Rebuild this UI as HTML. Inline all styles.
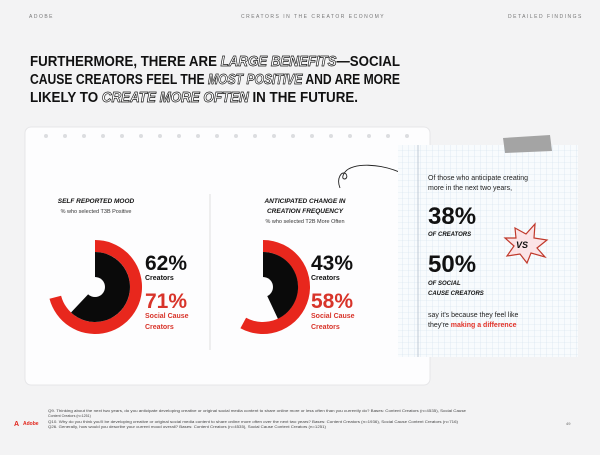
<!DOCTYPE html>
<html><head><meta charset="utf-8"><style>
body{margin:0;width:600px;height:450px;background:#f3f3f4;overflow:hidden;font-family:"Liberation Sans",sans-serif;}
</style></head><body>
<svg width="600" height="450" viewBox="0 0 600 450" xmlns="http://www.w3.org/2000/svg" font-family="Liberation Sans, sans-serif">
<defs>
<pattern id="grid" width="6" height="6" patternUnits="userSpaceOnUse">
<path d="M6 0H0V6" fill="none" stroke="#cfe0ec" stroke-width="0.6"/>
</pattern>
</defs>
<rect width="600" height="450" fill="#f3f3f4"/>
<text x="29" y="18" font-size="5" letter-spacing="1.5" fill="#777">ADOBE</text>
<text x="241" y="18" font-size="5" letter-spacing="1.5" fill="#777">CREATORS IN THE CREATOR ECONOMY</text>
<text x="508" y="18" font-size="5" letter-spacing="1.5" fill="#777">DETAILED FINDINGS</text>
<g font-size="14.5" font-weight="bold" fill="#111">
<text x="30" y="66" textLength="370" lengthAdjust="spacingAndGlyphs">FURTHERMORE, THERE ARE <tspan fill="#fff" stroke="#111" stroke-width="0.7" font-style="italic">LARGE BENEFITS</tspan>—SOCIAL</text>
<text x="30" y="84" textLength="370" lengthAdjust="spacingAndGlyphs">CAUSE CREATORS FEEL THE <tspan fill="#fff" stroke="#111" stroke-width="0.7" font-style="italic">MOST POSITIVE</tspan> AND ARE MORE</text>
<text x="30" y="102" textLength="328" lengthAdjust="spacingAndGlyphs">LIKELY TO <tspan fill="#fff" stroke="#111" stroke-width="0.7" font-style="italic">CREATE MORE OFTEN</tspan> IN THE FUTURE.</text>
</g>
<rect x="25" y="127" width="405" height="258" rx="6" fill="#fdfdfe" stroke="#e6e6e8"/>
<g fill="#dcdde0">
<circle cx="46" cy="136" r="2"/><circle cx="65" cy="136" r="2"/><circle cx="84" cy="136" r="2"/><circle cx="103" cy="136" r="2"/><circle cx="122" cy="136" r="2"/><circle cx="141" cy="136" r="2"/><circle cx="160" cy="136" r="2"/><circle cx="179" cy="136" r="2"/><circle cx="198" cy="136" r="2"/><circle cx="217" cy="136" r="2"/><circle cx="236" cy="136" r="2"/><circle cx="255" cy="136" r="2"/><circle cx="274" cy="136" r="2"/><circle cx="293" cy="136" r="2"/><circle cx="312" cy="136" r="2"/><circle cx="331" cy="136" r="2"/><circle cx="350" cy="136" r="2"/><circle cx="369" cy="136" r="2"/><circle cx="388" cy="136" r="2"/><circle cx="407" cy="136" r="2"/>
</g>
<line x1="210" y1="194" x2="210" y2="350" stroke="#d8d8d8" stroke-width="0.8"/>
<text x="96" y="203" font-size="6.5" font-weight="bold" font-style="italic" text-anchor="middle" fill="#111">SELF REPORTED MOOD</text>
<text x="96" y="213" font-size="5.5" text-anchor="middle" fill="#333">% who selected T3B Positive</text>
<text x="305" y="203" font-size="6.5" font-weight="bold" font-style="italic" text-anchor="middle" fill="#111">ANTICIPATED CHANGE IN</text>
<text x="305" y="213" font-size="6.5" font-weight="bold" font-style="italic" text-anchor="middle" fill="#111">CREATION FREQUENCY</text>
<text x="305" y="223" font-size="5.5" text-anchor="middle" fill="#333">% who selected T2B More Often</text>
<path d="M95 240 A47 47 0 1 1 49.5 298.7 L61.1 295.7 A35 35 0 1 0 95 252 Z" fill="#e8271d"/>
<path d="M95 287 L95 252 A35 35 0 1 1 71 312.5 Z" fill="#0a0a0a"/>
<circle cx="95" cy="287" r="10" fill="#fdfdfe"/>
<path d="M263 240 A47 47 0 1 1 240.4 328.2 L246.1 317.7 A35 35 0 1 0 263 252 Z" fill="#e8271d"/>
<path d="M263 287 L263 252 A35 35 0 0 1 277.9 318.7 Z" fill="#0a0a0a"/>
<circle cx="263" cy="287" r="10" fill="#fdfdfe"/>
<g font-weight="bold">
<text x="145" y="270" font-size="21" fill="#111">62%</text>
<text x="145" y="280" font-size="7" fill="#111">Creators</text>
<text x="145" y="308" font-size="21" fill="#d8342a">71%</text>
<text x="145" y="318" font-size="7" fill="#d8342a">Social Cause</text>
<text x="145" y="329" font-size="7" fill="#d8342a">Creators</text>
<text x="311" y="270" font-size="21" fill="#111">43%</text>
<text x="311" y="280" font-size="7" fill="#111">Creators</text>
<text x="311" y="308" font-size="21" fill="#d8342a">58%</text>
<text x="311" y="318" font-size="7" fill="#d8342a">Social Cause</text>
<text x="311" y="329" font-size="7" fill="#d8342a">Creators</text>
</g>
<path d="M340 188 C336 178 342 170 346 174 C350 180 338 182 345 172 C352 163 380 162 406 175" fill="none" stroke="#222" stroke-width="0.9"/>
<path d="M401 170 L406 175 L400 177" fill="none" stroke="#222" stroke-width="0.9"/>
<rect x="398" y="145" width="180" height="212" fill="#f8fbfd"/>
<rect x="398" y="145" width="180" height="212" fill="url(#grid)"/>
<line x1="418" y1="145" x2="418" y2="357" stroke="#a9b6c4" stroke-width="0.7"/>
<polygon points="503,138 550,135 552,151 505,153" fill="#a4a4a4"/>
<text x="428" y="180" font-size="7" fill="#222">Of those who anticipate creating</text>
<text x="428" y="190" font-size="7" fill="#222">more in the next two years,</text>
<text x="428" y="224" font-size="24" font-weight="bold" fill="#111">38%</text>
<text x="428" y="236" font-size="6" font-weight="bold" font-style="italic" fill="#111">OF CREATORS</text>
<text x="428" y="272" font-size="24" font-weight="bold" fill="#111">50%</text>
<text x="428" y="285" font-size="6" font-weight="bold" font-style="italic" fill="#111">OF SOCIAL</text>
<text x="428" y="295" font-size="6" font-weight="bold" font-style="italic" fill="#111">CAUSE CREATORS</text>
<polygon points="515,228 526,234 535,224 534,238 547,240 537,248 545,257 531,253 527,263 520,254 507,256 514,246 505,238 516,238" fill="#fbe3e6" stroke="#c0392b" stroke-width="1.2"/>
<text x="516" y="248" font-size="9" font-weight="bold" font-style="italic" fill="#111">VS</text>
<text x="428" y="317" font-size="7" fill="#222">say it's because they feel like</text>
<text x="428" y="327" font-size="7" fill="#222">they're <tspan font-weight="bold" fill="#e2342a">making a difference</tspan></text>
<g font-size="3.6" fill="#444">
<text x="48" y="412" textLength="418" lengthAdjust="spacingAndGlyphs">Q9. Thinking about the next two years, do you anticipate developing creative or original social media content to share online more or less often than you currently do? Bases: Content Creators (n=4535), Social Cause</text>
<text x="48" y="417">Content Creators (n=1251)</text>
<text x="48" y="423" textLength="410" lengthAdjust="spacingAndGlyphs">Q10. Why do you think you'll be developing creative or original social media content to share online more often over the next two years? Bases: Content Creators (n=1936), Social Cause Content Creators (n=716)</text>
<text x="48" y="428" textLength="278" lengthAdjust="spacingAndGlyphs">Q26. Generally, how would you describe your current mood overall? Bases: Content Creators (n=4535), Social Cause Content Creators (n=1251)</text>
</g>
<text x="14" y="426" font-size="7" font-weight="bold" fill="#e1251b">A</text>
<text x="23" y="425" font-size="5" font-weight="bold" fill="#e1251b">Adobe</text>
<text x="566" y="425" font-size="4" fill="#666">49</text>
</svg>
</body></html>
